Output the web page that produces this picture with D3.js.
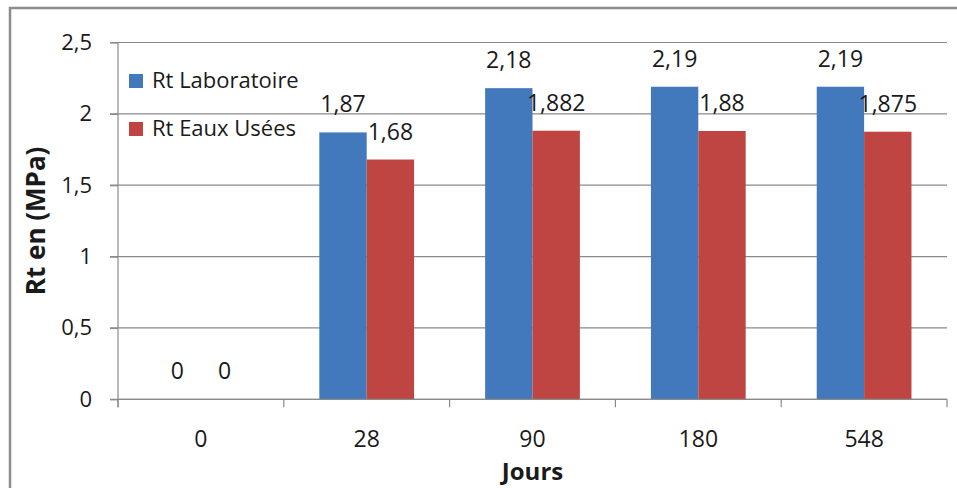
<!DOCTYPE html>
<html>
<head>
<meta charset="utf-8">
<script src="https://cdn.jsdelivr.net/npm/d3@7"></script>
<style>
  html, body { margin: 0; padding: 0; background: #fff; }
  svg { display: block; font-family: "Open Sans", "DejaVu Sans", sans-serif; }
</style>
</head>
<body>
<svg id="chart" width="957" height="488"></svg>
<script>
// Jours d'exposition
const categories = ["0", "28", "90", "180", "548"];
// Résistance à la traction (MPa)
const rtLaboratoire = [0, 1.87, 2.18, 2.19, 2.19];
const rtEauxUsees = [0, 1.68, 1.882, 1.88, 1.875];
const seriesNames = ["Rt Laboratoire", "Rt Eaux Usées"];
const seriesColors = ["#4179bc", "#be4542"];
const yTicks = [0, 0.5, 1, 1.5, 2, 2.5];

const series = [rtLaboratoire, rtEauxUsees];

const svg = d3.select("#chart");
const plot = { left: 118, right: 947, top: 42.5, bottom: 399.3 };

const fr = d3.formatLocale({ decimal: ",", thousands: " ", grouping: [3], currency: ["", " €"] });
const fmt = fr.format("~g");

// cadre extérieur du graphique
svg.append("rect")
  .attr("x", 10).attr("y", 8)
  .attr("width", 1000).attr("height", 600)
  .attr("fill", "none")
  .attr("stroke", "#8c8c8c")
  .attr("stroke-width", 2.5);

const x = d3.scaleBand().domain(categories).range([plot.left, plot.right]).paddingInner(0).paddingOuter(0);
const xs = d3.scaleBand().domain(d3.range(series.length)).range([0, x.bandwidth()]).paddingInner(0).paddingOuter(0.75);
const y = d3.scaleLinear().domain([0, 2.5]).range([plot.bottom, plot.top]);

// quadrillage horizontal
svg.append("g")
  .selectAll("line")
  .data(yTicks)
  .join("line")
  .attr("x1", plot.left - 8).attr("x2", plot.right)
  .attr("y1", d => y(d)).attr("y2", d => y(d))
  .attr("stroke", "#8a8a8a")
  .attr("stroke-width", 1.2);

// axe Y
const yAxis = svg.append("g")
  .attr("transform", `translate(${plot.left},0)`)
  .call(d3.axisLeft(y).tickValues(yTicks).tickFormat(fmt).tickSizeInner(8).tickSizeOuter(0).tickPadding(18));
yAxis.select(".domain").attr("stroke", "#8a8a8a").attr("stroke-width", 1.2).attr("d", `M0,${plot.top}V${plot.bottom + 8}`);
yAxis.selectAll(".tick line").attr("stroke", "#8a8a8a").attr("stroke-width", 1.2);
yAxis.selectAll(".tick text").attr("font-size", 22).attr("fill", "#1a1a1a").attr("font-family", "Open Sans");

// barres
const groups = svg.append("g")
  .selectAll("g")
  .data(series)
  .join("g")
  .attr("fill", (d, i) => seriesColors[i]);

groups.selectAll("rect")
  .data((vals, si) => vals.map((v, ci) => ({ v, ci, si })))
  .join("rect")
  .attr("x", d => x(categories[d.ci]) + xs(d.si))
  .attr("y", d => y(d.v))
  .attr("width", xs.bandwidth())
  .attr("height", d => y(0) - y(d.v));

// étiquettes de valeurs
const labels = svg.append("g");
series.forEach((vals, si) => {
  labels.selectAll(null)
    .data(vals.map((v, ci) => ({ v, ci })))
    .join("text")
    .attr("x", d => x(categories[d.ci]) + xs(si) + xs.bandwidth() / 2)
    .attr("y", d => y(d.v) - 20)
    .attr("text-anchor", "middle")
    .attr("font-size", 23)
    .attr("fill", "#1a1a1a")
    .text(d => fmt(d.v));
});

// axe X
const xAxis = svg.append("g")
  .attr("transform", `translate(0,${plot.bottom})`)
  .call(d3.axisBottom(x).tickSize(0).tickPadding(31));
xAxis.select(".domain").attr("stroke", "#8a8a8a").attr("stroke-width", 1.2).attr("d", `M${plot.left},0H${plot.right}`);
xAxis.selectAll(".tick text").attr("font-size", 23).attr("fill", "#1a1a1a").attr("font-family", "Open Sans");
// graduations entre catégories
xAxis.append("g")
  .selectAll("line")
  .data(categories.map(c => x(c)).concat([plot.right]))
  .join("line")
  .attr("x1", d => d).attr("x2", d => d)
  .attr("y1", 0).attr("y2", 8)
  .attr("stroke", "#8a8a8a")
  .attr("stroke-width", 1.2);

// titres des axes
svg.append("text")
  .attr("x", (plot.left + plot.right) / 2)
  .attr("y", 480)
  .attr("text-anchor", "middle")
  .attr("font-size", 24)
  .attr("font-weight", "bold")
  .attr("fill", "#1a1a1a")
  .text("Jours");

svg.append("text")
  .attr("transform", `translate(45,${(plot.top + plot.bottom) / 2}) rotate(-90)`)
  .attr("text-anchor", "middle")
  .attr("font-size", 26)
  .attr("font-weight", "bold")
  .attr("fill", "#1a1a1a")
  .text("Rt en (MPa)");

// légende
const legend = svg.append("g").attr("transform", "translate(129,74)");
seriesNames.forEach((name, i) => {
  const g = legend.append("g").attr("transform", `translate(0,${i * 48})`);
  g.append("rect").attr("width", 14).attr("height", 14).attr("fill", seriesColors[i]);
  g.append("text")
    .attr("x", 23).attr("y", 14)
    .attr("font-size", 22)
    .attr("fill", "#1a1a1a")
    .text(name);
});
</script>
</body>
</html>
